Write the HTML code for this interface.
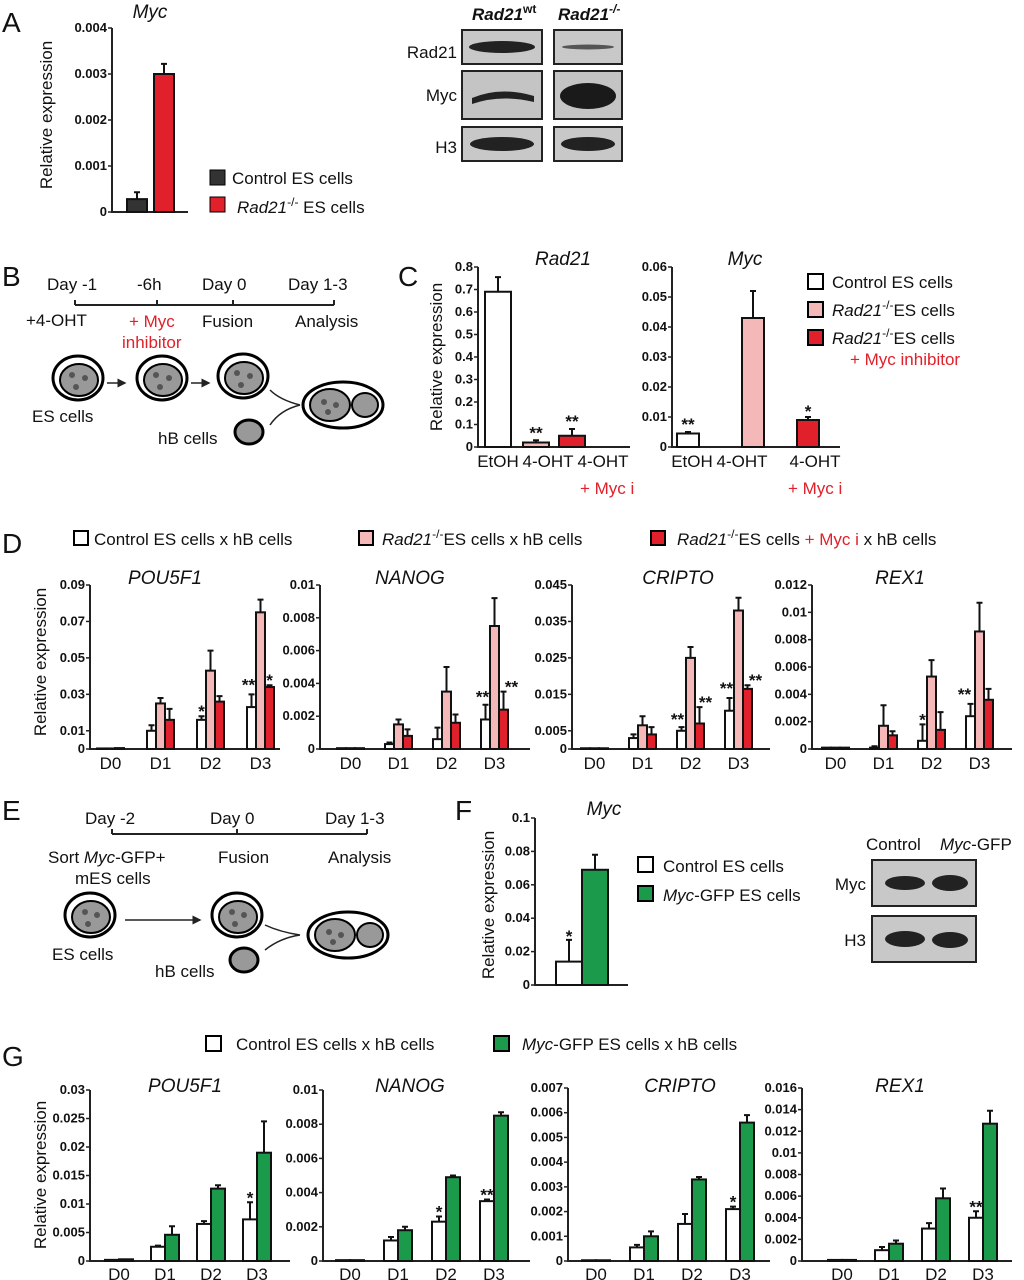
<!DOCTYPE html>
<html><head><meta charset="utf-8">
<style>
html,body{margin:0;padding:0;background:#fff;}
svg{display:block;font-family:"Liberation Sans",Arial,sans-serif;}
.t{font-size:13px;fill:#111;font-weight:bold;}
.lg{font-size:17px;fill:#111;}
.pl{font-size:28px;fill:#111;}
.ti{font-size:19px;font-style:italic;fill:#111;}
.red{fill:#e0202a;}
</style></head>
<body>
<svg id="fig" width="1024" height="1280" viewBox="0 0 1024 1280" xmlns="http://www.w3.org/2000/svg">
<defs><marker id="ah" markerWidth="6" markerHeight="6" refX="5" refY="3" orient="auto"><path d="M0 0 L6 3 L0 6 Z" fill="#222"/></marker></defs>
<text class="pl" x="2" y="32">A</text>
<text class="pl" x="2" y="286">B</text>
<text class="pl" x="398" y="286">C</text>
<text class="pl" x="2" y="553">D</text>
<text class="pl" x="2" y="820">E</text>
<text class="pl" x="455" y="820">F</text>
<text class="pl" x="2" y="1066">G</text>

<rect x="210" y="170" width="15" height="15" fill="#333" stroke="#000"/>
<text class="lg" x="232" y="184">Control ES cells</text>
<rect x="210" y="197" width="15" height="15" fill="#e0202a" stroke="#000"/>
<text class="lg" x="237" y="213"><tspan font-style="italic">Rad21</tspan><tspan font-size="12" dy="-7">-/-</tspan><tspan dy="7"> ES cells</tspan></text>

<g>
<text class="lg" x="472" y="20" font-weight="bold" font-style="italic">Rad21<tspan font-size="12" dy="-7" font-style="normal">wt</tspan></text>
<text class="lg" x="558" y="20" font-weight="bold" font-style="italic">Rad21<tspan font-size="12" dy="-7">-/-</tspan></text>
<rect x="462" y="30" width="80" height="34" fill="#c8c8c8" stroke="#222" stroke-width="2"/>
<rect x="554" y="30" width="68" height="34" fill="#c8c8c8" stroke="#222" stroke-width="2"/>
<rect x="462" y="71" width="80" height="48" fill="#c4c4c4" stroke="#222" stroke-width="2"/>
<rect x="554" y="71" width="68" height="48" fill="#c4c4c4" stroke="#222" stroke-width="2"/>
<rect x="462" y="127" width="80" height="34" fill="#c8c8c8" stroke="#222" stroke-width="2"/>
<rect x="554" y="127" width="68" height="34" fill="#c8c8c8" stroke="#222" stroke-width="2"/>
<text class="lg" x="457" y="58" text-anchor="end" font-size="18">Rad21</text>
<text class="lg" x="457" y="101" text-anchor="end" font-size="18">Myc</text>
<text class="lg" x="457" y="153" text-anchor="end" font-size="18">H3</text>
<ellipse cx="502" cy="47" rx="33" ry="6" fill="#222"/>
<ellipse cx="588" cy="47" rx="26" ry="2.5" fill="#555"/>
<path d="M472 98 Q500 86 534 96 L534 102 Q500 94 472 104 Z" fill="#222"/>
<ellipse cx="588" cy="96" rx="28" ry="13" fill="#1a1a1a"/>
<ellipse cx="502" cy="144" rx="32" ry="7" fill="#222"/>
<ellipse cx="588" cy="144" rx="27" ry="7" fill="#222"/>
</g>

<g>
<text class="lg" x="47" y="290" font-size="19">Day -1</text>
<text class="lg" x="137" y="290" font-size="19">-6h</text>
<text class="lg" x="202" y="290" font-size="19">Day 0</text>
<text class="lg" x="288" y="290" font-size="19">Day 1-3</text>
<path d="M75 305 H334 M75 300 V305 M157 300 V305 M233 300 V305 M334 300 V305" stroke="#222" stroke-width="2" fill="none"/>
<text class="lg" x="26" y="326">+4-OHT</text>
<text class="lg red" x="129" y="327">+ Myc</text>
<text class="lg red" x="122" y="348">inhibitor</text>
<text class="lg" x="202" y="327">Fusion</text>
<text class="lg" x="295" y="327">Analysis</text>
<g fill="#999" stroke="#000" stroke-width="2">
<ellipse cx="78" cy="378" rx="25" ry="22" fill="#fff" stroke-width="3"/><ellipse cx="79" cy="380" rx="19" ry="16"/>
<ellipse cx="162" cy="378" rx="25" ry="22" fill="#fff" stroke-width="3"/><ellipse cx="163" cy="380" rx="19" ry="16"/>
<ellipse cx="243" cy="376" rx="25" ry="22" fill="#fff" stroke-width="3"/><ellipse cx="244" cy="378" rx="19" ry="16"/>
<ellipse cx="343" cy="405" rx="40" ry="23" fill="#fff" stroke-width="3"/><ellipse cx="330" cy="405" rx="20" ry="16"/><ellipse cx="365" cy="405" rx="13" ry="12"/>
<ellipse cx="249" cy="432" rx="14" ry="12" stroke-width="3"/>
</g>
<g fill="#555"><circle cx="72" cy="375" r="3"/><circle cx="85" cy="378" r="3"/><circle cx="76" cy="387" r="3"/><circle cx="156" cy="375" r="3"/><circle cx="169" cy="378" r="3"/><circle cx="160" cy="387" r="3"/><circle cx="237" cy="373" r="3"/><circle cx="250" cy="376" r="3"/><circle cx="241" cy="385" r="3"/><circle cx="324" cy="402" r="3"/><circle cx="336" cy="405" r="3"/><circle cx="328" cy="412" r="3"/></g>
<path d="M107 383 H125" stroke="#222" stroke-width="1.5" fill="none" marker-end="url(#ah)"/>
<path d="M191 383 H209" stroke="#222" stroke-width="1.5" fill="none" marker-end="url(#ah)"/>
<path d="M270 390 Q280 400 300 405 M270 425 Q280 410 300 405" stroke="#222" stroke-width="1.5" fill="none"/>
<text class="lg" x="32" y="422">ES cells</text>
<text class="lg" x="158" y="444">hB cells</text>
</g>

<rect x="808" y="274" width="15" height="15" fill="#fff" stroke="#000" stroke-width="2"/>
<text class="lg" x="832" y="288">Control ES cells</text>
<rect x="808" y="302" width="15" height="15" fill="#f5b8b8" stroke="#000" stroke-width="2"/>
<text class="lg" x="832" y="316"><tspan font-style="italic">Rad21</tspan><tspan font-size="12" dy="-7">-/-</tspan><tspan dy="7">ES cells</tspan></text>
<rect x="808" y="330" width="15" height="15" fill="#e0202a" stroke="#000" stroke-width="2"/>
<text class="lg" x="832" y="344"><tspan font-style="italic">Rad21</tspan><tspan font-size="12" dy="-7">-/-</tspan><tspan dy="7">ES cells</tspan></text>
<text class="lg red" x="850" y="365">+ Myc inhibitor</text>
<text class="lg red" x="580" y="494">+ Myc i</text>
<text class="lg red" x="788" y="494">+ Myc i</text>

<g>
<rect x="74" y="531" width="14" height="14" fill="#fff" stroke="#000" stroke-width="2"/>
<text class="lg" x="94" y="545">Control ES cells x hB cells</text>
<rect x="359" y="531" width="14" height="14" fill="#f5b8b8" stroke="#000" stroke-width="2"/>
<text class="lg" x="382" y="545"><tspan font-style="italic">Rad21</tspan><tspan font-size="12" dy="-7">-/-</tspan><tspan dy="7">ES cells x hB cells</tspan></text>
<rect x="651" y="531" width="14" height="14" fill="#e0202a" stroke="#000" stroke-width="2"/>
<text class="lg" x="677" y="545"><tspan font-style="italic">Rad21</tspan><tspan font-size="12" dy="-7">-/-</tspan><tspan dy="7">ES cells </tspan><tspan fill="#e0202a">+ Myc i </tspan><tspan> x hB cells</tspan></text>
</g>

<g>
<text class="lg" x="85" y="824" font-size="19">Day -2</text>
<text class="lg" x="210" y="824" font-size="19">Day 0</text>
<text class="lg" x="325" y="824" font-size="19">Day 1-3</text>
<path d="M112 834 H367 M112 829 V834 M237 829 V834 M367 829 V834" stroke="#222" stroke-width="2" fill="none"/>
<text class="lg" x="48" y="863">Sort <tspan font-style="italic">Myc</tspan>-GFP+</text>
<text class="lg" x="75" y="884">mES cells</text>
<text class="lg" x="218" y="863">Fusion</text>
<text class="lg" x="328" y="863">Analysis</text>
<g fill="#999" stroke="#000" stroke-width="2">
<ellipse cx="90" cy="915" rx="25" ry="22" fill="#fff" stroke-width="3"/><ellipse cx="91" cy="917" rx="19" ry="16"/>
<ellipse cx="237" cy="915" rx="25" ry="22" fill="#fff" stroke-width="3"/><ellipse cx="238" cy="917" rx="19" ry="16"/>
<ellipse cx="348" cy="935" rx="40" ry="23" fill="#fff" stroke-width="3"/><ellipse cx="335" cy="935" rx="20" ry="16"/><ellipse cx="370" cy="935" rx="13" ry="12"/>
<ellipse cx="244" cy="960" rx="14" ry="12" stroke-width="3"/>
</g>
<g fill="#555"><circle cx="85" cy="912" r="3"/><circle cx="97" cy="915" r="3"/><circle cx="88" cy="924" r="3"/><circle cx="232" cy="912" r="3"/><circle cx="244" cy="915" r="3"/><circle cx="235" cy="924" r="3"/><circle cx="329" cy="932" r="3"/><circle cx="341" cy="935" r="3"/><circle cx="333" cy="942" r="3"/></g>
<path d="M125 920 H200" stroke="#222" stroke-width="1.5" fill="none" marker-end="url(#ah)"/>
<path d="M265 925 Q280 932 300 935 M265 950 Q280 938 300 935" stroke="#222" stroke-width="1.5" fill="none"/>
<text class="lg" x="52" y="960">ES cells</text>
<text class="lg" x="155" y="977">hB cells</text>
</g>

<rect x="638" y="857" width="15" height="15" fill="#fff" stroke="#000" stroke-width="2"/>
<text class="lg" x="663" y="872">Control ES cells</text>
<rect x="638" y="886" width="15" height="15" fill="#1a9a4a" stroke="#000" stroke-width="2"/>
<text class="lg" x="663" y="901"><tspan font-style="italic">Myc</tspan>-GFP ES cells</text>
<g>
<text class="lg" x="866" y="850">Control</text>
<text class="lg" x="940" y="850"><tspan font-style="italic">Myc</tspan>-GFP</text>
<text class="lg" x="866" y="890" text-anchor="end">Myc</text>
<text class="lg" x="866" y="946" text-anchor="end">H3</text>
<rect x="872" y="860" width="104" height="46" fill="#c8c8c8" stroke="#222" stroke-width="2"/>
<rect x="872" y="916" width="104" height="46" fill="#c8c8c8" stroke="#222" stroke-width="2"/>
<ellipse cx="905" cy="883" rx="20" ry="7" fill="#222"/><ellipse cx="950" cy="883" rx="18" ry="8" fill="#222"/>
<ellipse cx="905" cy="939" rx="20" ry="8" fill="#222"/><ellipse cx="950" cy="940" rx="18" ry="8" fill="#222"/>
</g>

<rect x="206" y="1036" width="15" height="15" fill="#fff" stroke="#000" stroke-width="2"/>
<text class="lg" x="236" y="1050">Control ES cells x hB cells</text>
<rect x="494" y="1036" width="15" height="15" fill="#1a9a4a" stroke="#000" stroke-width="2"/>
<text class="lg" x="522" y="1050"><tspan font-style="italic">Myc</tspan>-GFP ES cells x hB cells</text>

<g id="charts"></g>
</svg>
<script>
const aCats=['Control','Rad21-/-'];
const aVals=[0.00028,0.003];
const aErrs=[0.00015,0.00022];
const cCats=['EtOH','4-OHT','4-OHT'];
const cRad21Vals=[0.69,0.02,0.05];
const cRad21Errs=[0.065,0.01,0.03];
const cMycVals=[0.0045,0.043,0.009];
const cMycErrs=[0.0005,0.009,0.001];
const dCats=['D0','D1','D2','D3'];
const dPouCtl=[0.0003,0.010,0.016,0.023];
const dPouRad=[0.0003,0.025,0.043,0.075];
const dPouMyc=[0.0005,0.016,0.026,0.034];
const dPouCtlE=[0,0.003,0.002,0.007];
const dPouRadE=[0,0.003,0.011,0.007];
const dPouMycE=[0,0.006,0.003,0.001];
const dNanCtl=[0.00005,0.0003,0.0006,0.0018];
const dNanRad=[0.00005,0.0015,0.0035,0.0075];
const dNanMyc=[0.00005,0.0008,0.0016,0.0024];
const dNanCtlE=[0,0.0001,0.0007,0.0009];
const dNanRadE=[0,0.0003,0.0015,0.0017];
const dNanMycE=[0,0.0004,0.0005,0.0011];
const dCriCtl=[0.0002,0.003,0.005,0.0105];
const dCriRad=[0.0002,0.0065,0.025,0.038];
const dCriMyc=[0.0002,0.004,0.007,0.0165];
const dCriCtlE=[0,0.001,0.001,0.0035];
const dCriRadE=[0,0.0025,0.003,0.0035];
const dCriMycE=[0,0.002,0.0045,0.001];
const dRexCtl=[0.0001,0.0001,0.0006,0.0024];
const dRexRad=[0.0001,0.0017,0.0053,0.0086];
const dRexMyc=[0.0001,0.001,0.0014,0.0036];
const dRexCtlE=[0,0.0001,0.0012,0.0009];
const dRexRadE=[0,0.0015,0.0012,0.0021];
const dRexMycE=[0,0.0003,0.0013,0.0008];
const fVals=[0.014,0.069];
const fErrs=[0.013,0.009];
const gPouCtl=[0.0002,0.0025,0.0065,0.0073];
const gPouGfp=[0.0003,0.0046,0.0127,0.019];
const gPouCtlE=[0,0.0002,0.0005,0.003];
const gPouGfpE=[0,0.0015,0.0006,0.0055];
const gNanCtl=[0.00005,0.0012,0.0023,0.0035];
const gNanGfp=[0.00005,0.0018,0.0049,0.0085];
const gNanCtlE=[0,0.0002,0.0003,0.0001];
const gNanGfpE=[0,0.0002,0.0001,0.0002];
const gCriCtl=[0.00003,0.00055,0.0015,0.0021];
const gCriGfp=[0.00003,0.001,0.0033,0.0056];
const gCriCtlE=[0,0.0001,0.0004,0.0001];
const gCriGfpE=[0,0.0002,0.0001,0.0003];
const gRexCtl=[0.0001,0.001,0.003,0.004];
const gRexGfp=[0.0001,0.0016,0.0058,0.0127];
const gRexCtlE=[0,0.0003,0.0005,0.0006];
const gRexGfpE=[0,0.0003,0.0009,0.0012];
const aTicks=['0','0.001','0.002','0.003','0.004'];
const cRad21Ticks=['0','0.1','0.2','0.3','0.4','0.5','0.6','0.7','0.8'];
const cMycTicks=['0','0.01','0.02','0.03','0.04','0.05','0.06'];
const dPouTicks=['0','0.01','0.03','0.05','0.07','0.09'];
const dNanTicks=['0','0.002','0.004','0.006','0.008','0.01'];
const dCriTicks=['0','0.005','0.015','0.025','0.035','0.045'];
const dRexTicks=['0','0.002','0.004','0.006','0.008','0.01','0.012'];
const fTicks=['0','0.02','0.04','0.06','0.08','0.1'];
const gPouTicks=['0','0.005','0.01','0.015','0.02','0.025','0.03'];
const gNanTicks=['0','0.002','0.004','0.006','0.008','0.01'];
const gCriTicks=['0','0.001','0.002','0.003','0.004','0.005','0.006','0.007'];
const gRexTicks=['0','0.002','0.004','0.006','0.008','0.01','0.012','0.014','0.016'];

const NS='http://www.w3.org/2000/svg';
const root=document.getElementById('charts');
function mk(tag,attrs,parent,txt){const e=document.createElementNS(NS,tag);for(const k in attrs)e.setAttribute(k,attrs[k]);if(txt!==undefined)e.textContent=txt;(parent||root).appendChild(e);return e;}

const WHITE='#fff',PINK='#f5b8b8',RED='#e0202a',GREEN='#1a9a4a',DARK='#333';

function chart(o){
  const g=mk('g',{});
  
  
  const y=v=>o.zero-(v/o.max)*(o.zero-o.top);
  const x=(si,ci)=>o.start+ci*o.step+si*o.bw+(o.offs?o.offs[si]:0);
  mk('path',{d:`M${o.ax} ${o.top} V${o.zero} H${o.xEnd}`,stroke:'#222','stroke-width':2,fill:'none'},g);
  o.ticks.forEach(t=>{const v=parseFloat(t);const yy=y(v);
    mk('path',{d:`M${o.ax-4} ${yy} H${o.ax}`,stroke:'#222','stroke-width':1.5},g);
    const lbl=mk('text',{x:o.ax-5,y:yy+4,'text-anchor':'end',class:'t','font-size':o.tfs||13},g,t);
    
    
  });
  const ns=o.series.length;
  o.cats.forEach((c,ci)=>{
    const cx=o.catX?o.catX(ci):(o.start+ci*o.step+ns*o.bw/2);
    const cl=mk('text',{x:cx,y:o.zero+(o.catDy||20),'text-anchor':'middle',class:'lg'},g,c);
    
    
  });
  o.series.forEach((s,si)=>{
    s.v.forEach((v,ci)=>{
      const bx=x(si,ci),top=y(v),bw=o.barW||o.bw;
      if(s.e[ci]>0){const et=y(v+s.e[ci]);
        mk('path',{d:`M${bx+bw/2} ${top} V${et} M${bx+bw/2-3} ${et} H${bx+bw/2+3}`,stroke:'#111','stroke-width':2},g);}
      const r=mk('rect',{x:bx,y:top,width:bw,height:Math.max(o.zero-top,0.5),fill:s.fill,stroke:'#111','stroke-width':2},g);
      
      
    });
  });
  (o.stars||[]).forEach(st=>{const [si,ci,txt,dx,dy]=st;const s=o.series[si];
    const bx=x(si,ci)+(o.barW||o.bw)/2;const yy=y(s.v[ci]+s.e[ci]);
    mk('text',{x:bx+dx,y:yy+dy+6,'text-anchor':'middle',class:'lg','font-size':24,'font-weight':'bold'},g,txt);});
  if(o.title){const tt=mk('text',{x:o.titleX,y:o.titleY,'text-anchor':'middle',class:'ti'},g,o.title);
    }
  if(o.ytitle){const yt=mk('text',{x:0,y:0,transform:`translate(${o.ytitle[0]},${o.ytitle[1]}) rotate(-90)`,'text-anchor':'middle',class:'lg','font-size':18},g,'Relative expression');
    }
}

chart({name:'chart-a-myc',ax:112,zero:212,top:28,max:0.004,ticks:aTicks,xEnd:188,start:127,step:0,bw:0,barW:20,offs:[0,27],
  series:[{v:[aVals[0]],e:[aErrs[0]],fill:DARK,name:'control'},{v:[aVals[1]],e:[aErrs[1]],fill:RED,name:'rad21'}],
  cats:[],title:'Myc',titleX:150,titleY:18,ytitle:[52,115]});
chart({name:'chart-c-rad21',ax:478,zero:447,top:267,max:0.8,ticks:cRad21Ticks,xEnd:630,start:485,step:0,bw:0,barW:26,offs:[0,38,74],
  series:[{v:[cRad21Vals[0]],e:[cRad21Errs[0]],fill:WHITE,name:'control'},{v:[cRad21Vals[1]],e:[cRad21Errs[1]],fill:PINK,name:'rad21'},{v:[cRad21Vals[2]],e:[cRad21Errs[2]],fill:RED,name:'rad21-myci'}],
  cats:cCats,catX:i=>[498,548,603][i],title:'Rad21',titleX:563,titleY:265,ytitle:[442,357],
  stars:[[1,0,'**',0,-8],[2,0,'**',0,-8]]});
chart({name:'chart-c-myc',ax:672,zero:447,top:267,max:0.06,ticks:cMycTicks,xEnd:840,start:677,step:0,bw:0,barW:22,offs:[0,65,120],
  series:[{v:[cMycVals[0]],e:[cMycErrs[0]],fill:WHITE,name:'control'},{v:[cMycVals[1]],e:[cMycErrs[1]],fill:PINK,name:'rad21'},{v:[cMycVals[2]],e:[cMycErrs[2]],fill:RED,name:'rad21-myci'}],
  cats:cCats,catX:i=>[692,742,815][i],title:'Myc',titleX:745,titleY:265,
  stars:[[0,0,'**',0,-8],[2,0,'*',0,-6]]});
function dChart(name,ax,start,step,max,ticks,ctl,rad,myc,ce,re,me,title,titleX,xEnd,stars,yt){
  chart({name,ax,zero:749,top:585,max,ticks,xEnd,start,step,bw:9,
    series:[{v:ctl,e:ce,fill:WHITE,name:'control'},{v:rad,e:re,fill:PINK,name:'rad21'},{v:myc,e:me,fill:RED,name:'rad21-myci'}],
    cats:dCats,catDy:20,title,titleX,titleY:584,stars,ytitle:yt});
}
dChart('chart-d-pou5f1',90,97,50,0.09,dPouTicks,dPouCtl,dPouRad,dPouMyc,dPouCtlE,dPouRadE,dPouMycE,'POU5F1',165,280,[[0,2,'*',0,-5],[0,3,'**',-3,-10],[2,3,'*',0,-5]],[46,662]);
dChart('chart-d-nanog',320,337,48,0.01,dNanTicks,dNanCtl,dNanRad,dNanMyc,dNanCtlE,dNanRadE,dNanMycE,'NANOG',410,530,[[0,3,'**',-3,-8],[2,3,'**',8,-5]]);
dChart('chart-d-cripto',572,581,48,0.045,dCriTicks,dCriCtl,dCriRad,dCriMyc,dCriCtlE,dCriRadE,dCriMycE,'CRIPTO',678,770,[[0,2,'**',-4,-8],[2,2,'**',6,-5],[0,3,'**',-3,-10],[2,3,'**',8,-5]]);
dChart('chart-d-rex1',812,822,48,0.012,dRexTicks,dRexCtl,dRexRad,dRexMyc,dRexCtlE,dRexRadE,dRexMycE,'REX1',900,1012,[[0,2,'*',0,-5],[0,3,'**',-6,-10]]);
chart({name:'chart-f-myc',ax:535,zero:985,top:818,max:0.1,ticks:fTicks,xEnd:628,start:556,step:0,bw:0,barW:26,offs:[0,26],
  series:[{v:[fVals[0]],e:[fErrs[0]],fill:WHITE,name:'control'},{v:[fVals[1]],e:[fErrs[1]],fill:GREEN,name:'myc-gfp'}],
  cats:[],title:'Myc',titleX:604,titleY:815,ytitle:[494,905],stars:[[0,0,'*',0,-4]]});
function gChart(name,ax,start,step,max,ticks,ctl,gfp,ce,ge,title,titleX,xEnd,stars,yt,top){
  chart({name,ax,zero:1261,top,max,ticks,xEnd,start,step,bw:14,tfs:12,
    series:[{v:ctl,e:ce,fill:WHITE,name:'control'},{v:gfp,e:ge,fill:GREEN,name:'myc-gfp'}],
    cats:dCats,catDy:19,title,titleX,titleY:1092,stars,ytitle:yt});
}
gChart('chart-g-pou5f1',90,105,46,0.03,gPouTicks,gPouCtl,gPouGfp,gPouCtlE,gPouGfpE,'POU5F1',185,290,[[0,3,'*',0,-5]],[46,1175],1090);
gChart('chart-g-nanog',323,336,48,0.01,gNanTicks,gNanCtl,gNanGfp,gNanCtlE,gNanGfpE,'NANOG',410,530,[[0,2,'*',0,-5],[0,3,'**',0,-5]],null,1090);
gChart('chart-g-cripto',568,582,48,0.007,gCriTicks,gCriCtl,gCriGfp,gCriCtlE,gCriGfpE,'CRIPTO',680,770,[[0,3,'*',0,-5]],null,1088);
gChart('chart-g-rex1',802,828,47,0.016,gRexTicks,gRexCtl,gRexGfp,gRexCtlE,gRexGfpE,'REX1',900,1012,[[0,3,'**',0,-5]],null,1088);
</script>
</body></html>
